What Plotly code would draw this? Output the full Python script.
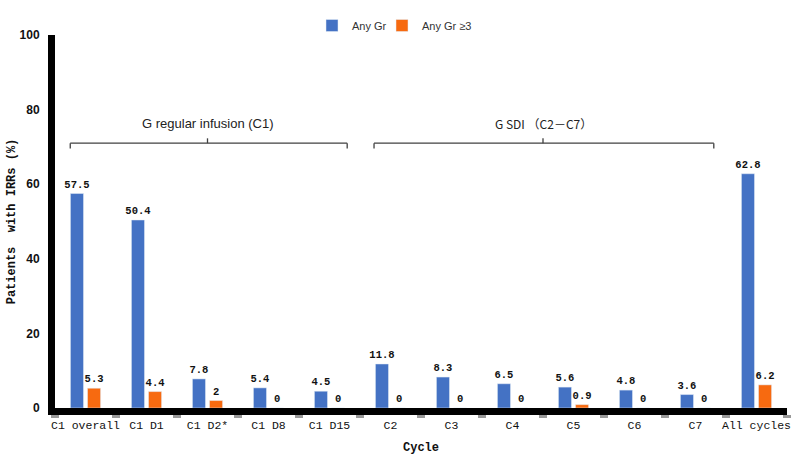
import plotly.graph_objects as go

categories = ["C1 overall", "C1 D1", "C1 D2*", "C1 D8", "C1 D15", "C2", "C3", "C4", "C5", "C6", "C7", "All cycles"]
any_gr = [57.5, 50.4, 7.8, 5.4, 4.5, 11.8, 8.3, 6.5, 5.6, 4.8, 3.6, 62.8]
any_gr3 = [5.3, 4.4, 2, 0, 0, 0, 0, 0, 0.9, 0, 0, 6.2]
y_ticks = [0, 20, 40, 60, 80, 100]

BLUE = "#4472C4"
ORANGE = "#F76A10"
MONO = "Liberation Mono"
LABEL_FONT = dict(family=MONO, size=10.5, color="#111111")

fig = go.Figure()
fig.add_trace(go.Bar(
    name="Any Gr", x=categories, y=any_gr, marker_color=BLUE,
    text=[f"<b>{v:g}</b>" for v in any_gr], textposition="outside",
    textfont=LABEL_FONT, cliponaxis=False, constraintext="none", legend="legend",
))
fig.add_trace(go.Bar(
    name="Any Gr ≥3", x=categories, y=any_gr3, marker_color=ORANGE,
    text=[f"<b>{v:g}</b>" for v in any_gr3], textposition="outside",
    textfont=LABEL_FONT, cliponaxis=False, constraintext="none", legend="legend2",
))

# Bracket helpers (category-index positions)
def bracket(x0, x1, xc, y, color="#404040"):
    w = 1.3
    fig.add_shape(type="line", xref="x", yref="y", x0=x0, x1=x1, y0=y, y1=y, line=dict(color=color, width=w))
    fig.add_shape(type="line", xref="x", yref="y", x0=x0, x1=x0, y0=y, y1=y - 1.4, line=dict(color=color, width=w))
    fig.add_shape(type="line", xref="x", yref="y", x0=x1, x1=x1, y0=y, y1=y - 1.4, line=dict(color=color, width=w))
    fig.add_shape(type="line", xref="x", yref="y", x0=xc, x1=xc, y0=y, y1=y + 1.3, line=dict(color=color, width=w))

bracket(-0.25, 4.29, 2.0, 71)
bracket(4.73, 10.3, 7.5, 71)

fig.add_annotation(x=2.0, y=76.3, xref="x", yref="y", text="G regular infusion (C1)", showarrow=False,
                   font=dict(family="Arial", size=13, color="#222222"))
fig.add_annotation(x=7.5, y=76.3, xref="x", yref="y", text="G SDI （C2－C7）", showarrow=False,
                   font=dict(family="Noto Sans CJK SC", size=12, color="#222222"))

legend_common = dict(orientation="h", xanchor="left", xref="container", yref="container", yanchor="top",
                     font=dict(family="Arial", size=11, color="#333333"), itemwidth=30,
                     bgcolor="rgba(0,0,0,0)")
fig.update_layout(
    width=812, height=464,
    margin=dict(l=55, r=25, t=35, b=56, autoexpand=False),
    paper_bgcolor="white", plot_bgcolor="white",
    barmode="group", bargap=0.44, bargroupgap=0.235,
    legend=dict(x=312 / 812, y=1 - 11 / 464, **legend_common),
    legend2=dict(x=382 / 812, y=1 - 11 / 464, **legend_common),
    showlegend=True,
)
fig.update_xaxes(
    type="category", showline=True, linecolor="black", linewidth=7, automargin=False,
    showgrid=False, ticks="outside", tickson="boundaries", ticklen=3, tickwidth=8, tickcolor="#999999",
    tickangle=0,
    tickfont=dict(family=MONO, size=11.5, color="#111111"),
    title=dict(text="<b>Cycle</b>", font=dict(family=MONO, size=12, color="#111111"), standoff=14),
)
fig.update_yaxes(
    range=[0, 100], tickvals=y_ticks, ticktext=[f"<b>{t}</b>" for t in y_ticks],
    showline=True, linecolor="black", linewidth=7, showgrid=False, zeroline=False, automargin=False,
    ticks="", tickfont=dict(family="Arial", size=12, color="#111111"), ticklabelstandoff=6,
    title=dict(text="<b>Patients  with IRRs (%)</b>", font=dict(family=MONO, size=12, color="#111111"), standoff=4),
)

fig.write_html("out.html", config={"displayModeBar": False},
               post_script="document.body.style.margin='0';")
